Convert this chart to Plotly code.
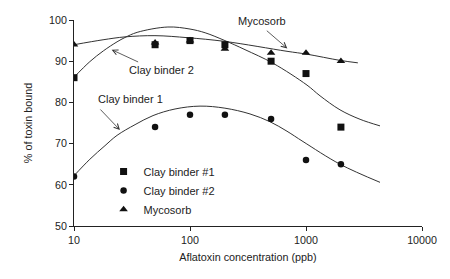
import math
import plotly.graph_objects as go

# ---- data ----
conc = [10, 50, 100, 200, 500, 1000, 2000]
clay_binder_1 = [86, 94, 95, 94, 90, 87, 74]      # squares
clay_binder_2 = [62, 74, 77, 77, 76, 66, 65]      # circles
mycosorb = [94, 94.5, 95, 93, 92, 92, 90]          # triangles

# fitted curves
curve_cb2_x = [10, 13.7, 17.9, 23.5, 27.5, 35, 64.5, 100, 135, 200, 298, 520, 1020, 1321, 1963, 2924, 4345]
curve_cb2_y = [86.1, 89.9, 92.5, 94.7, 95.75, 97.0, 98.3, 97.8, 96.9, 95.0, 92.8, 89.5, 84.2, 81.6, 78.2, 75.9, 74.3]

curve_myco_x = [10, 17.8, 27.5, 49.9, 96, 200, 686, 1020, 1963, 2800]
curve_myco_y = [94.0, 95.2, 95.9, 96.2, 95.7, 94.8, 92.4, 91.7, 90.2, 89.6]

curve_cb1_x = [10, 13.7, 18.5, 23.5, 33.6, 48, 74.3, 122, 200, 329, 490, 686, 942, 1963, 4345]
curve_cb1_y = [62.2, 66.2, 69.5, 72.0, 74.6, 76.8, 78.4, 79.1, 78.6, 77.2, 75.3, 73.0, 70.5, 65.0, 60.6]

x_ticks = [10, 100, 1000, 10000]
x_tick_labels = ["10", "100", "1000", "10000"]

FONT = "Arial, Liberation Sans, sans-serif"
LINE_C = "#333333"
MARK_C = "#111111"

fig = go.Figure()

for cx, cy in [(curve_cb2_x, curve_cb2_y), (curve_myco_x, curve_myco_y), (curve_cb1_x, curve_cb1_y)]:
    fig.add_trace(go.Scatter(x=cx, y=cy, mode="lines",
                             line=dict(color=LINE_C, width=1, shape="spline", smoothing=1.0),
                             showlegend=False, hoverinfo="skip"))

fig.add_trace(go.Scatter(x=conc, y=clay_binder_1, mode="markers", name="Clay binder #1",
                         marker=dict(symbol="square", size=7, color=MARK_C)))
fig.add_trace(go.Scatter(x=conc, y=clay_binder_2, mode="markers", name="Clay binder #2",
                         marker=dict(symbol="circle", size=6.5, color=MARK_C)))
fig.add_trace(go.Scatter(x=conc, y=mycosorb, mode="markers", name="Mycosorb",
                         marker=dict(symbol="triangle-up", size=7.5, color=MARK_C)))

# curve labels (x in concentration units)
labels = [
    ("Mycosorb", 418, 99.75),
    ("Clay binder 2", 57, 87.9),
    ("Clay binder 1", 30.8, 80.8),
]
for t, x, y in labels:
    fig.add_annotation(x=math.log10(x), y=y, xref="x", yref="y", text=t, showarrow=False,
                       font=dict(family=FONT, size=11, color="#222"))

# arrows (head in data coords, tail offset in px)
arrows = [
    (690, 93.1, -22, -19),
    (21.1, 92.8, 28, 13),
    (24.9, 73.3, -21, -22),
]
for x, y, ax, ay in arrows:
    fig.add_annotation(x=math.log10(x), y=y, xref="x", yref="y", text="", showarrow=True,
                       ax=ax, ay=ay, arrowhead=5, arrowsize=1.3, arrowwidth=0.8,
                       arrowcolor=LINE_C, standoff=0, startstandoff=0)

fig.update_layout(
    width=450, height=279,
    margin=dict(l=74, r=28, t=20, b=53),
    paper_bgcolor="white", plot_bgcolor="white",
    font=dict(family=FONT, size=11, color="#222"),
    showlegend=True,
    legend=dict(x=0.085, y=0.335, xanchor="left", yanchor="top",
                bgcolor="rgba(0,0,0,0)", font=dict(size=11, family=FONT),
                itemwidth=30, tracegroupgap=0),
    xaxis=dict(type="log", range=[1, 4], tickvals=x_ticks, ticktext=x_tick_labels,
               showgrid=False, zeroline=False, showline=True, linecolor="#222", linewidth=1,
               ticks="outside", ticklen=4, tickcolor="#222", tickfont=dict(size=10.7),
               title=dict(text="Aflatoxin concentration (ppb)", font=dict(size=10.8), standoff=8)),
    yaxis=dict(range=[50, 100], dtick=10, showgrid=False, zeroline=False, showline=True,
               linecolor="#222", linewidth=1, ticks="outside", ticklen=4, tickcolor="#222",
               tickfont=dict(size=10.7),
               title=dict(text="% of toxin bound", font=dict(size=10.8), standoff=14)),
)

fig.write_html("out.html")
